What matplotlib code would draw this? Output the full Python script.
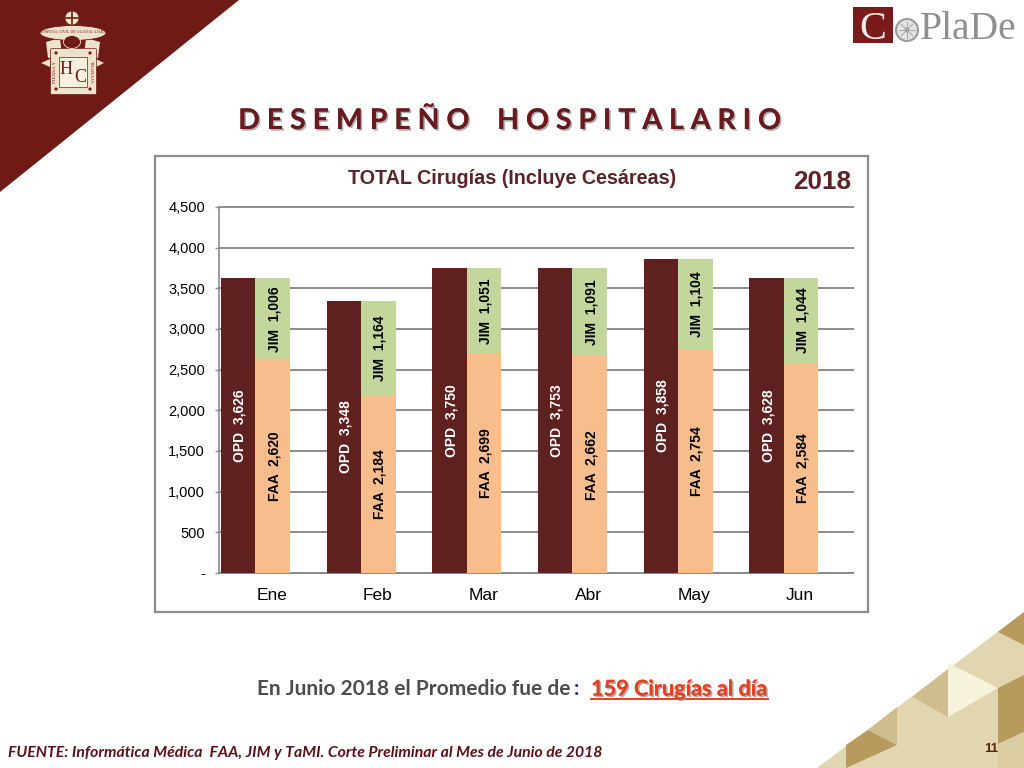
import matplotlib
matplotlib.use("Agg")
import matplotlib.pyplot as plt
import matplotlib.patheffects as pe
from matplotlib.patches import Polygon, Rectangle, Circle, Ellipse, FancyBboxPatch

# ---- data ----
months = ["Ene", "Feb", "Mar", "Abr", "May", "Jun"]
opd = [3626, 3348, 3750, 3753, 3858, 3628]
faa = [2620, 2184, 2699, 2662, 2754, 2584]
jim = [1006, 1164, 1051, 1091, 1104, 1044]
y_ticks = [0, 500, 1000, 1500, 2000, 2500, 3000, 3500, 4000, 4500]

WINE = "#6f1a14"
BAR_OPD = "#5f2120"
BAR_FAA = "#f8bd8c"
BAR_JIM = "#c3d69b"
GRID = "#8c8c8c"

fig = plt.figure(figsize=(10.24, 7.68), dpi=100, facecolor="white")

# ---- slide layer, in pixel coordinates ----
bg = fig.add_axes([0, 0, 1, 1], zorder=0)
bg.set_xlim(0, 1024)
bg.set_ylim(768, 0)
bg.axis("off")

bg.add_patch(Polygon([(0, 0), (239, 0), (0, 192)], color=WINE, lw=0))

# crest
CREAM = "#efe2cc"
bg.add_patch(Circle((72, 18), 7, fc=CREAM, ec=WINE, lw=0.5))
bg.plot([72, 72], [12, 24], color=WINE, lw=1.2)
bg.plot([66, 78], [18, 18], color=WINE, lw=1.2)
bg.add_patch(Polygon([(46, 42), (60, 38), (62, 55), (48, 58)], fc=CREAM, lw=0))
bg.add_patch(Polygon([(100, 42), (86, 38), (84, 55), (98, 58)], fc=CREAM, lw=0))
bg.add_patch(Polygon([(41, 63), (50, 59), (50, 67)], fc=CREAM, lw=0))
bg.add_patch(Polygon([(104, 63), (96, 59), (96, 67)], fc=CREAM, lw=0))
bg.add_patch(FancyBboxPatch((52, 50), 43, 43, boxstyle="round,pad=1.5", fc=CREAM, ec=WINE, lw=0.5))
bg.add_patch(Rectangle((59, 57), 28, 30, fc="#f7efe0", ec=WINE, lw=0.5))
bg.add_patch(Ellipse((73, 33), 66, 15, fc=CREAM, ec=WINE, lw=0.6))
bg.add_patch(Ellipse((72, 42), 17, 13, fc=WINE, ec=CREAM, lw=0.6))
for px, py in [(56, 53), (90, 53), (56, 89), (90, 89)]:
    bg.add_patch(Circle((px, py), 1.6, color=WINE, lw=0))
bg.text(73, 32, "HOSPITAL CIVIL DE GUADALAJARA", family="Liberation Serif", fontsize=2.9, color=WINE,
        ha="center", va="center")
bg.text(55, 72, "PIENSA Y", family="Liberation Serif", fontsize=3.6, color=WINE, rotation=90,
        ha="center", va="center")
bg.text(91, 72, "TRABAJA", family="Liberation Serif", fontsize=3.6, color=WINE, rotation=270,
        ha="center", va="center")
bg.text(66, 70, "H", family="Liberation Serif", fontsize=13, color=WINE, ha="center", va="center")
bg.text(80, 78, "C", family="Liberation Serif", fontsize=13, color=WINE, ha="center", va="center")

# CoPlaDe logo
bg.add_patch(Rectangle((853, 7), 40, 36, color="#7a1a1a", lw=0))
bg.text(873, 39, "C", family="Liberation Serif", fontsize=29, color="#f4ece6", ha="center", va="baseline")
bg.add_patch(Circle((907, 30), 11, fc="#e4e4e2", ec="#9a9a98", lw=1.5))
bg.add_patch(Circle((907, 30), 2.5, fc="#9a9a98", lw=0))
for dx, dy in [(-8, 0), (8, 0), (0, -8), (0, 8), (-6, -6), (6, 6), (-6, 6), (6, -6)]:
    bg.plot([907, 907 + dx], [30, 30 + dy], color="#a8a8a6", lw=0.7)
bg.text(920, 39, "PlaDe", family="Liberation Serif", fontsize=28.5, color="#8f8f8d", ha="left", va="baseline")

# corner decoration
LIGHT = "#e2d6b0"
MID = "#cfbd90"
DARK = "#b89a5e"
bg.add_patch(Polygon([(817, 768), (1024, 612), (1024, 768)], color=LIGHT, lw=0))
bg.add_patch(Polygon([(846, 745), (868, 730), (897, 745), (846, 768)], color=DARK, lw=0))
bg.add_patch(Polygon([(868, 730), (897, 745), (897, 707)], color=MID, lw=0))
bg.add_patch(Polygon([(912, 697), (948, 717), (948, 669)], color=MID, lw=0))
bg.add_patch(Polygon([(948, 663), (998, 688), (948, 717)], color="#f7f2dc", lw=0))
bg.add_patch(Polygon([(998, 632), (1024, 612), (1024, 645)], color=DARK, lw=0))
bg.add_patch(Polygon([(998, 688), (1024, 675), (1024, 732), (998, 744)], color=DARK, lw=0))
bg.add_patch(Polygon([(998, 744), (1024, 732), (1024, 768), (998, 768)], color="#dccda4", lw=0))

# chart frame
bg.add_patch(Rectangle((155, 156), 713, 456, fc="white", ec=GRID, lw=1.6))

shadow = [pe.withSimplePatchShadow(offset=(1.2, -1.2), shadow_rgbFace="#999999", alpha=0.8), pe.Normal()]
bg.text(509, 121, "D E S E M P E Ñ O    H O S P I T A L A R I O", family="Lato", fontweight="bold",
        fontsize=20.5, color="#6a1a1f", ha="center", va="center", path_effects=shadow)
bg.text(512, 178, "TOTAL Cirugías (Incluye Cesáreas)", family="Liberation Sans", fontweight="bold",
        fontsize=14.2, color="#5c2428", ha="center", va="center")
bg.text(822, 182, "2018", family="Liberation Sans", fontweight="bold", fontsize=18.8,
        color="#5c2428", ha="center", va="center")

bg.text(257, 689, "En Junio 2018 el Promedio fue de", family="Lato", fontweight="bold", fontsize=15,
        color="#4d4d4d", ha="left", va="center")
bg.text(574, 689, ":", family="Lato", fontweight="bold", fontsize=15, color="#1f2f8f", ha="left", va="center")
bg.text(591, 689, "159 Cirugías al día", family="Lato", fontweight="bold", fontsize=15.6,
        color="#e8401c", ha="left", va="center", path_effects=shadow)
bg.plot([591, 768], [699, 699], color="#e8401c", lw=1.4)
bg.text(8, 753, "FUENTE: Informática Médica  FAA, JIM y TaMI. Corte Preliminar al Mes de Junio de 2018",
        family="Lato", fontweight="bold", style="italic", fontsize=11.3, color="#5c1018", ha="left", va="center")
bg.text(991, 749, "11", family="Liberation Sans", fontweight="bold", fontsize=9.5, color="#5c2010",
        ha="center", va="center")

# ---- chart ----
ax = fig.add_axes([219 / 1024, 1 - 573 / 768, 634 / 1024, 366 / 768], zorder=2)
ax.patch.set_alpha(0)
x = list(range(len(months)))
bar_w = 0.327
x_opd = [i - 0.318 for i in x]
x_stack = [i + 0.007 for i in x]
label_nudge = 0.014  # rotated text sits a bit left of the bar centre otherwise

ax.bar(x_opd, opd, width=bar_w, color=BAR_OPD, zorder=3)
ax.bar(x_stack, faa, width=bar_w, color=BAR_FAA, zorder=3)
ax.bar(x_stack, jim, width=bar_w, bottom=faa, color=BAR_JIM, zorder=3)

for i in x:
    ax.text(x_opd[i] + label_nudge, opd[i] / 2, f"OPD  {opd[i]:,}", rotation=90, color="white", fontweight="bold",
            family="Liberation Sans", fontsize=10, ha="center", va="center", zorder=4)
    ax.text(x_stack[i] + label_nudge, faa[i] / 2, f"FAA  {faa[i]:,}", rotation=90, color="black", fontweight="bold",
            family="Liberation Sans", fontsize=10, ha="center", va="center", zorder=4)
    ax.text(x_stack[i] + label_nudge, faa[i] + jim[i] / 2, f"JIM  {jim[i]:,}", rotation=90, color="black",
            fontweight="bold", family="Liberation Sans", fontsize=10, ha="center", va="center", zorder=4)

ax.set_xlim(-0.5, 5.5)
ax.set_ylim(0, 4500)
ax.set_yticks(y_ticks)
ax.set_yticklabels(["-" if v == 0 else f"{v:,}" for v in y_ticks], family="Liberation Sans", fontsize=10.5)
ax.set_xticks(x)
ax.set_xticklabels(months, family="Liberation Sans", fontsize=12.5)
ax.tick_params(axis="x", length=0, pad=11)
ax.tick_params(axis="y", length=3, color=GRID, width=1, pad=7)
ax.grid(axis="y", color=GRID, lw=1.4, zorder=0, clip_on=False)
ax.set_axisbelow(True)
for side in ["top", "right"]:
    ax.spines[side].set_visible(False)
for side in ["left", "bottom"]:
    ax.spines[side].set_color(GRID)
    ax.spines[side].set_linewidth(1.2)

fig.savefig("out.png", dpi=100)
